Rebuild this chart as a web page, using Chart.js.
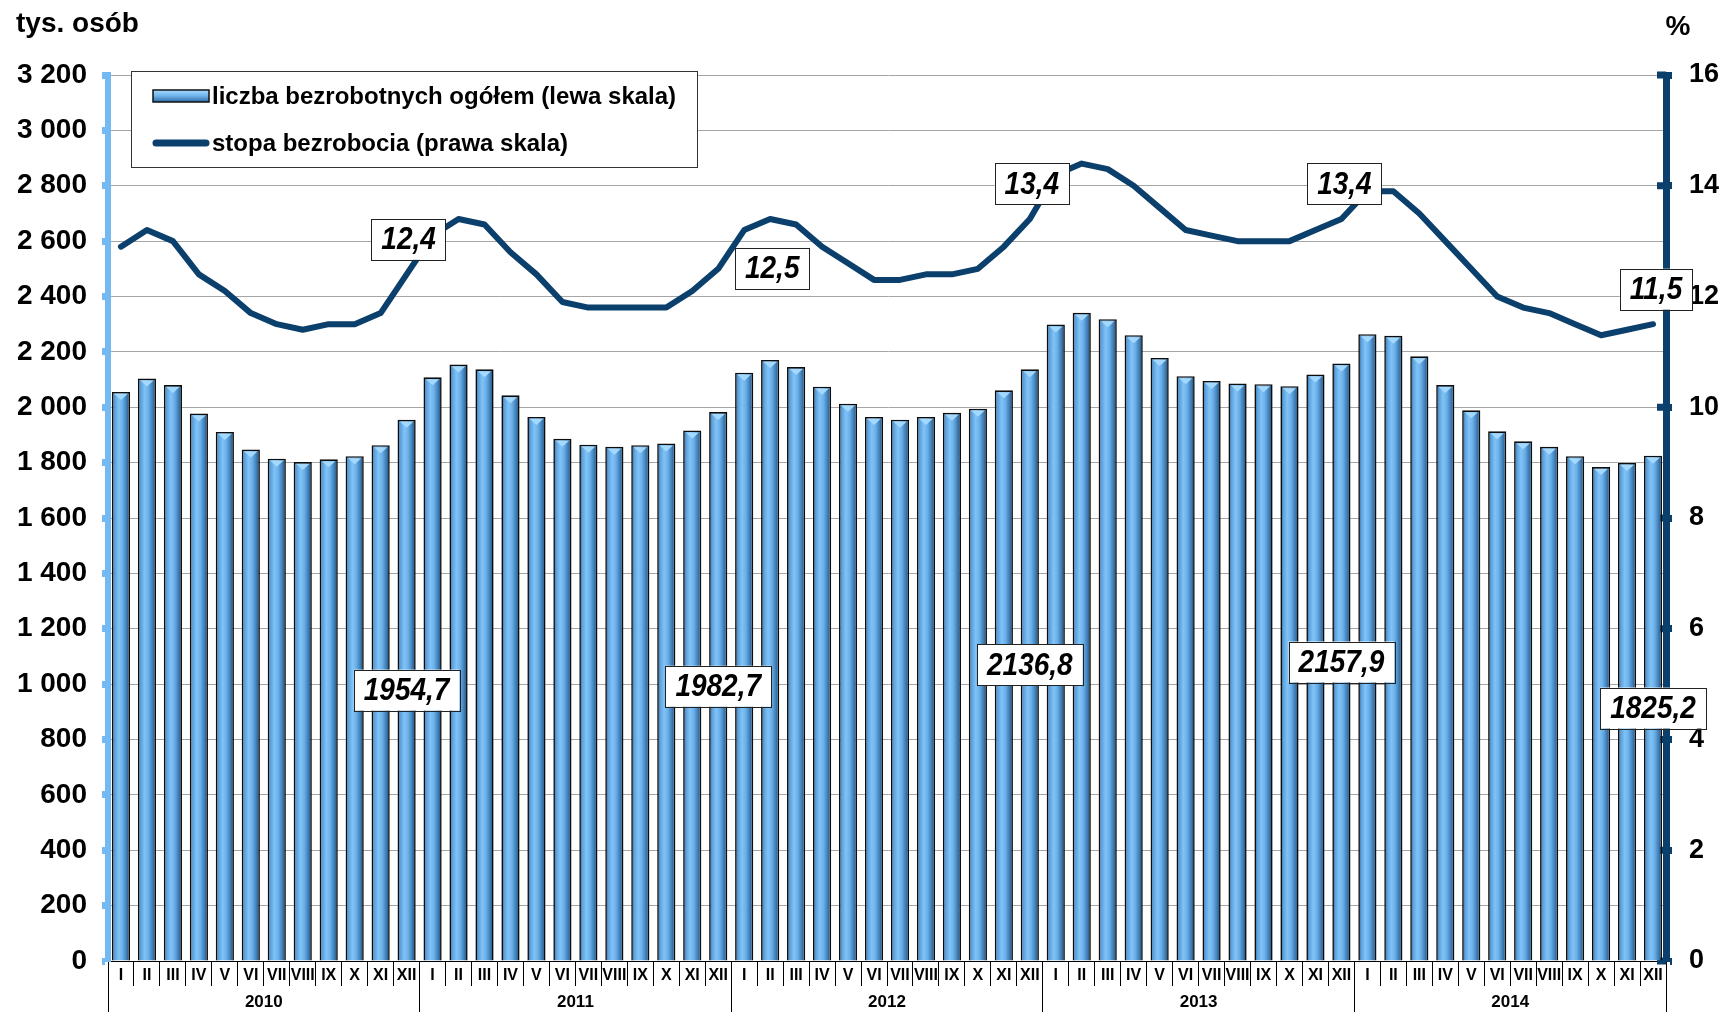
<!DOCTYPE html>
<html lang="pl">
<head>
<meta charset="utf-8">
<title>Bezrobocie 2010-2014</title>
<script src="https://cdn.jsdelivr.net/npm/chart.js@4.4.1/dist/chart.umd.min.js"></script>
<style>
  html, body { margin: 0; padding: 0; background: #fff; }
  #wrap { width: 1727px; height: 1012px; }
</style>
</head>
<body>
<div id="wrap"><canvas id="chart" width="1727" height="1012"></canvas></div>
<script>
const years = ['2010', '2011', '2012', '2013', '2014'];
const months = ['I', 'II', 'III', 'IV', 'V', 'VI', 'VII', 'VIII', 'IX', 'X', 'XI', 'XII'];

// liczba bezrobotnych ogółem, tys. osób (lewa skala)
const unemployed2010 = [2055, 2104, 2080, 1977, 1911, 1847, 1814, 1802, 1812, 1823, 1863, 1954.7];
const unemployed2011 = [2108, 2154, 2137, 2043, 1965, 1886, 1865, 1857, 1863, 1869, 1916, 1982.7];
const unemployed2012 = [2125, 2171, 2145, 2074, 2013, 1965, 1955, 1965, 1980, 1995, 2061, 2136.8];
const unemployed2013 = [2299, 2341, 2318, 2260, 2178, 2112, 2095, 2086, 2083, 2076, 2118, 2157.9];
const unemployed2014 = [2264, 2258, 2184, 2080, 1989, 1913, 1877, 1857, 1823, 1784, 1799, 1825.2];

// stopa bezrobocia, % (prawa skala)
const rate2010 = [12.9, 13.2, 13.0, 12.4, 12.1, 11.7, 11.5, 11.4, 11.5, 11.5, 11.7, 12.4];
const rate2011 = [13.1, 13.4, 13.3, 12.8, 12.4, 11.9, 11.8, 11.8, 11.8, 11.8, 12.1, 12.5];
const rate2012 = [13.2, 13.4, 13.3, 12.9, 12.6, 12.3, 12.3, 12.4, 12.4, 12.5, 12.9, 13.4];
const rate2013 = [14.2, 14.4, 14.3, 14.0, 13.6, 13.2, 13.1, 13.0, 13.0, 13.0, 13.2, 13.4];
const rate2014 = [13.9, 13.9, 13.5, 13.0, 12.5, 12.0, 11.8, 11.7, 11.5, 11.3, 11.4, 11.5];

// axis ranges
const leftMax = 3200, leftStep = 200;
const rightMax = 16, rightStep = 2;

const labels = years.flatMap(() => months);
const unemployed = [].concat(unemployed2010, unemployed2011, unemployed2012, unemployed2013, unemployed2014);
const rates = [].concat(rate2010, rate2011, rate2012, rate2013, rate2014);
// December of each year gets a value tag
const taggedIdx = years.map((y, i) => i * 12 + 11);

const FONT = '"Liberation Sans", Arial, sans-serif';
const NAVY = '#0b3f6c';
const LIGHT = '#74b9f2';

Chart.defaults.font.family = FONT;
Chart.defaults.color = '#000';

const fmt = v => v.toFixed(1).replace('.', ',');
const fmtThousands = v => v >= 1000 ? Math.floor(v / 1000) + ' ' + String(v % 1000).padStart(3, '0') : String(v);

function barFill(ctx) {
  const chart = ctx.chart;
  const xs = chart.scales.x;
  if (!xs || ctx.type !== 'data' || !chart.chartArea) return '#5fa6e0';
  const cx = xs.getPixelForValue(ctx.dataIndex);
  const half = xs.width / labels.length * 0.35;
  const g = chart.ctx.createLinearGradient(cx - half, 0, cx + half, 0);
  g.addColorStop(0, '#1f4a72');
  g.addColorStop(0.15, '#5a9fdb');
  g.addColorStop(0.38, '#80c3f7');
  g.addColorStop(0.58, '#6cb0ea');
  g.addColorStop(0.82, '#3c7bb3');
  g.addColorStop(1, '#1d4264');
  return g;
}

function drawTag(c, text, cx, cy) {
  c.font = 'italic bold 28px ' + FONT;
  const w = c.measureText(text).width + 20;
  const h = 41;
  c.fillStyle = '#fff';
  c.fillRect(cx - w / 2, cy - h / 2, w, h);
  c.strokeStyle = '#222';
  c.lineWidth = 1;
  c.strokeRect(Math.round(cx - w / 2) + 0.5, Math.round(cy - h / 2) + 0.5, Math.round(w), h);
  c.save();
  c.translate(cx, cy + 1);
  c.scale(1, 1.12);
  c.fillStyle = '#000';
  c.textAlign = 'center';
  c.textBaseline = 'middle';
  c.fillText(text, 0, 0);
  c.restore();
}

const decorations = {
  id: 'decorations',
  beforeDatasetsDraw(chart) {
    // inner half of the right axis tick marks
    const c = chart.ctx;
    const area = chart.chartArea;
    const yr = chart.scales.yR;
    c.save();
    c.fillStyle = NAVY;
    yr.ticks.forEach(t => {
      const y = yr.getPixelForValue(t.value);
      c.fillRect(area.right - 9, y - 3.5, 9, 7);
    });
    c.restore();
  },
  afterDatasetDraw(chart, args) {
    if (args.meta.type !== 'bar') return;
    const c = chart.ctx;
    c.save();
    args.meta.data.forEach(bar => {
      const w = bar.width;
      c.beginPath();
      c.moveTo(bar.x - w / 2 + 2.5, bar.y + 2);
      c.lineTo(bar.x + w / 2 - 2.5, bar.y + 2);
      c.lineTo(bar.x, bar.y + 8);
      c.closePath();
      c.fillStyle = '#a4d9ff';
      c.fill();
    });
    c.restore();
  },
  afterDatasetsDraw(chart) {
    const c = chart.ctx;
    const lineMeta = chart.getDatasetMeta(0);
    const barMeta = chart.getDatasetMeta(1);
    const shift = chart.options.plugins.decorations.lineTagShift;
    c.save();
    taggedIdx.forEach((i, k) => {
      const b = barMeta.data[i];
      drawTag(c, fmt(unemployed[i]), b.x, (b.y + b.base) / 2);
      const p = lineMeta.data[i];
      drawTag(c, fmt(rates[i]), p.x + shift[k][0], p.y + shift[k][1]);
    });
    c.restore();
  },
  afterDraw(chart) {
    const c = chart.ctx;
    const area = chart.chartArea;
    c.save();

    // unit titles
    c.fillStyle = '#000';
    c.font = 'bold 28px ' + FONT;
    c.textBaseline = 'alphabetic';
    c.textAlign = 'left';
    c.fillText('tys. osób', 16, 32);
    c.textAlign = 'center';
    c.fillText('%', area.right + 12, 35);

    // legend
    const bx = area.left + 23, by = area.top - 4, bw = 566, bh = 96;
    c.fillStyle = '#fff';
    c.fillRect(bx, by, bw, bh);
    c.strokeStyle = '#333';
    c.lineWidth = 1;
    c.strokeRect(bx + 0.5, by + 0.5, bw, bh);

    const mx = bx + 22, mw = 56;
    const row1 = by + 25, row2 = by + 72;
    const g = c.createLinearGradient(0, row1 - 6, 0, row1 + 6);
    g.addColorStop(0, '#a6dbff');
    g.addColorStop(0.5, '#6db2ec');
    g.addColorStop(1, '#2f6aa3');
    c.fillStyle = g;
    c.fillRect(mx, row1 - 6, mw, 12);
    c.strokeStyle = '#111';
    c.lineWidth = 1.5;
    c.strokeRect(mx, row1 - 6, mw, 12);

    c.strokeStyle = NAVY;
    c.lineWidth = 7;
    c.lineCap = 'round';
    c.beginPath();
    c.moveTo(mx + 3, row2);
    c.lineTo(mx + mw - 3, row2);
    c.stroke();

    c.fillStyle = '#000';
    c.font = 'bold 24px ' + FONT;
    c.textAlign = 'left';
    c.textBaseline = 'middle';
    c.fillText(chart.data.datasets[1].label, mx + mw + 3, row1 + 1);
    c.fillText(chart.data.datasets[0].label, mx + mw + 3, row2 + 1);
    c.restore();
  }
};

new Chart(document.getElementById('chart'), {
  data: {
    labels: labels,
    datasets: [
      {
        type: 'line',
        label: 'stopa bezrobocia (prawa skala)',
        data: rates,
        yAxisID: 'yR',
        borderColor: NAVY,
        borderWidth: 6,
        borderJoinStyle: 'round',
        borderCapStyle: 'round',
        pointRadius: 0,
        tension: 0,
        order: 0
      },
      {
        type: 'bar',
        label: 'liczba bezrobotnych ogółem (lewa skala)',
        data: unemployed,
        yAxisID: 'y',
        backgroundColor: barFill,
        borderColor: '#0d0d0d',
        borderWidth: 1.6,
        barPercentage: 0.7,
        categoryPercentage: 1,
        order: 1
      }
    ]
  },
  options: {
    responsive: false,
    animation: false,
    layout: { padding: { top: 75, left: 0, right: 0, bottom: 0 } },
    plugins: {
      legend: { display: false },
      tooltip: { enabled: false },
      decorations: { lineTagShift: [[2, -35], [54, 0], [2, -35], [3, -35], [3, -35]] }
    },
    scales: {
      x: {
        type: 'category',
        position: 'bottom',
        weight: 0,
        offset: true,
        grid: { offset: true, drawOnChartArea: false, tickLength: 25, color: '#000', lineWidth: 1 },
        border: { display: true, color: '#000', width: 1 },
        ticks: { autoSkip: false, maxRotation: 0, minRotation: 0, padding: -20, font: { size: 16, weight: 'bold' } },
        afterFit(s) { s.height = 25; }
      },
      x2: {
        type: 'linear',
        position: 'bottom',
        weight: 1,
        min: 0,
        max: labels.length,
        afterBuildTicks(s) {
          s.ticks = years.flatMap((y, i) => [{ value: i * 12 }, { value: i * 12 + 6 }]).concat({ value: labels.length });
        },
        grid: {
          drawOnChartArea: false,
          tickLength: 26,
          lineWidth: 1,
          color: ctx => (ctx.tick && ctx.tick.value % 12 === 0) ? '#000' : 'rgba(0,0,0,0)'
        },
        border: { display: false },
        ticks: {
          autoSkip: false, maxRotation: 0, minRotation: 0, padding: -20,
          font: { size: 17, weight: 'bold' },
          callback: v => v % 12 === 6 ? years[(v - 6) / 12] : ''
        },
        afterFit(s) { s.height = 26; }
      },
      y: {
        position: 'left',
        min: 0,
        max: leftMax,
        ticks: { stepSize: leftStep, padding: 15, font: { size: 28, weight: 'bold' }, callback: v => fmtThousands(v) },
        grid: { color: '#a6a6a6', lineWidth: 1, tickColor: LIGHT, tickLength: 6, tickWidth: 7 },
        border: { color: LIGHT, width: 6 },
        afterFit(s) { s.width = 108; }
      },
      yR: {
        position: 'right',
        min: 0,
        max: rightMax,
        ticks: { stepSize: rightStep, padding: 17, font: { size: 27, weight: 'bold' } },
        grid: { drawOnChartArea: false, tickColor: NAVY, tickLength: 6, tickWidth: 7 },
        border: { color: NAVY, width: 7 },
        afterFit(s) { s.width = 61; }
      }
    }
  },
  plugins: [decorations]
});
</script>
</body>
</html>
